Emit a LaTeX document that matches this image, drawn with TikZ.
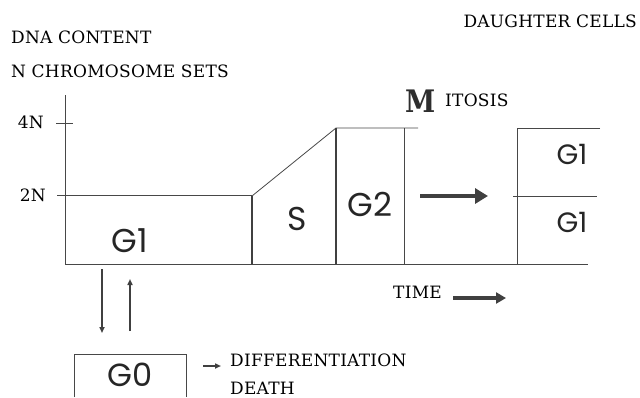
\documentclass[tikz,border=0pt]{standalone}
\usepackage{fontspec}
\setmainfont{DejaVu Serif}
\newfontfamily\capsfont{DejaVu Serif}[LetterSpace=1.5]
\newfontfamily\bigserif{DejaVu Serif}
\newfontfamily\geofont{Poppins}
\usetikzlibrary{arrows.meta}
\begin{document}
\begin{tikzpicture}[x=1pt,y=-1pt,
  ln/.style={line width=0.8pt, draw=black!72},
  bar/.style={line width=2.8pt, draw=black!75},
  caps/.style={font=\capsfont\fontsize{17}{17}\selectfont, text=black, inner sep=0pt},
  phase/.style={font=\geofont\fontsize{33}{33}\selectfont, text=black!85, inner sep=0pt, text depth=0pt},
  small phase/.style={font=\geofont\fontsize{28}{28}\selectfont, text=black!85, inner sep=0pt},
  fat arrow/.style={line width=4.5pt, draw=black!75, -{Triangle[length=13pt,width=15pt]}},
  mid arrow/.style={line width=3.5pt, draw=black!75, -{Triangle[length=10pt,width=11pt]}},
  thin arrow/.style={line width=1.8pt, draw=black!75, -{Triangle[length=6pt,width=5pt]}}
]
\useasboundingbox (0,0) rectangle (640,397);

% headings
\node[caps, anchor=base west] (dna) at (11,43) {DNA CONTENT};
\node[caps, anchor=base west] (nsets) at (11,77) {N CHROMOSOME SETS};
\node[caps, anchor=base east] (daughter) at (637,27) {DAUGHTER CELLS};

% axis with ticks
\coordinate (axtop) at (65,95);
\coordinate (origin) at (65,264);
\coordinate (axend) at (588,264);
\draw[ln] (axtop) -- (origin) -- (axend);
\node[caps, anchor=base east] (fourN) at (44,128) {4N};
\node[caps, anchor=base east] (twoN) at (46,201) {2N};
\coordinate (t4a) at (56,123); \coordinate (t4b) at (73,123);
\draw[ln] (t4a) -- (t4b);
\coordinate (t2a) at (57,195);
\coordinate (g1end) at (252,195);
\draw[ln] (t2a) -- (g1end);

% S phase ramp and G2 plateau
\coordinate (sbot) at (252,264);
\coordinate (stop) at (252,196);
\coordinate (g2top) at (336,128);
\coordinate (g2bot) at (336,264);
\coordinate (plateau) at (418,128);
\coordinate (mtop) at (404,128);
\coordinate (mbot) at (404,264);
\draw[ln] (stop) -- (g2top) -- (plateau);
\draw[ln] (mtop) -- (mbot);
\draw[bar] (stop) -- (sbot);
\draw[bar] (g2top) -- (g2bot);

% daughter cells
\coordinate (dtop) at (517,128);
\coordinate (dbot) at (517,264);
\coordinate (dtopr) at (600,128);
\coordinate (dmidl) at (513,196);
\coordinate (dmidr) at (597,196);
\draw[ln] (dtopr) -- (dtop) -- (dbot);
\draw[ln] (dmidl) -- (dmidr);

% phase labels
\node[phase] (g1) at (130,241) {G1};
\node[phase] (s) at (297,219) {S};
\node[phase] (g2) at (370,204) {G2};
\node[small phase] (d1) at (572,154) {G1};
\node[small phase] (d2) at (572,222) {G1};

% mitosis label
\node[font=\bigserif\bfseries\fontsize{31}{31}\selectfont, text=black!82, inner sep=0pt, anchor=base west, xscale=0.88] (mbig) at (405,112) {M};
\node[caps, anchor=base west] (itosis) at (445,106) {ITOSIS};

% mitosis arrow
\coordinate (ma) at (420,196);
\coordinate (mb) at (488,196);
\draw[fat arrow] (ma) -- (mb);

% time axis label
\node[caps, anchor=base west] (time) at (393,298) {TIME};
\coordinate (ta) at (453,298);
\coordinate (tb) at (506,298);
\draw[mid arrow] (ta) -- (tb);

% G0 exchange
\coordinate (downa) at (102,269);
\coordinate (downb) at (102,333);
\coordinate (upa) at (130,331);
\coordinate (upb) at (130,279);
\draw[thin arrow] (downa) -- (downb);
\draw[thin arrow] (upa) -- (upb);

\coordinate (g0bl) at (74,397);
\coordinate (g0tl) at (74,354);
\coordinate (g0tr) at (186,354);
\coordinate (g0br) at (186,397);
\draw[ln] (g0bl) -- (g0tl) -- (g0tr) -- (g0br);
\node[phase, font=\geofont\fontsize{32}{32}\selectfont, anchor=base] (g0) at (130,386) {G0};

\coordinate (fa) at (203,366);
\coordinate (fb) at (221,366);
\draw[thin arrow, line width=1.5pt] (fa) -- (fb);
\node[caps, anchor=base west] (diff) at (230,366) {DIFFERENTIATION};
\node[caps, anchor=base west] (death) at (230,394) {DEATH};
\end{tikzpicture}
\end{document}
